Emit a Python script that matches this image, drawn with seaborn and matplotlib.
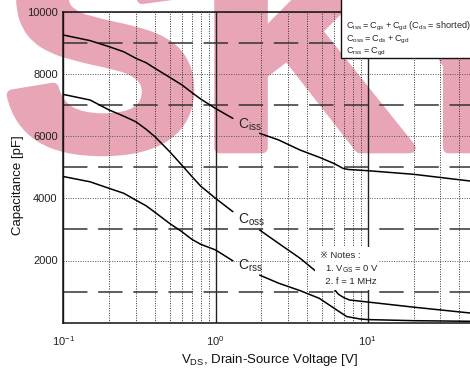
import pandas as pd
import matplotlib
matplotlib.use("Agg")
import matplotlib.pyplot as plt
import matplotlib.patheffects as pe
from matplotlib.patches import Rectangle
from matplotlib.ticker import FixedLocator, LogLocator, NullFormatter
import seaborn as sns

sns.set_style("white")
plt.rcParams['font.family'] = ['Liberation Sans', 'DejaVu Sans']
plt.rcParams['mathtext.default'] = 'regular'
plt.rcParams['axes.unicode_minus'] = False

# curves, split in two parts where the label sits
ciss_v1 = [0.1, 0.15, 0.2, 0.25, 0.3, 0.35, 0.4, 0.5, 0.6, 0.7, 0.8, 1.0, 1.3]
ciss_c1 = [9250, 9070, 8875, 8710, 8500, 8360, 8180, 7890, 7650, 7400, 7190, 6890, 6570]
ciss_v2 = [1.95, 2.6, 3.6, 4.8, 6.0, 6.9, 7.5, 10, 20, 47]
ciss_c2 = [6090, 5875, 5550, 5320, 5120, 4960, 4925, 4888, 4772, 4556]

coss_v1 = [0.1, 0.15, 0.2, 0.25, 0.3, 0.35, 0.4, 0.5, 0.6, 0.7, 0.8, 1.0, 1.3]
coss_c1 = [7340, 7160, 6840, 6640, 6460, 6220, 5980, 5500, 5070, 4700, 4390, 4000, 3570]
coss_v2 = [1.95, 2.6, 3.6, 4.2, 5.0, 5.8, 6.4, 7.0, 7.6, 10, 20, 47]
coss_c2 = [2980, 2550, 2070, 1800, 1500, 1180, 920, 800, 730, 665, 500, 312]

crss_v1 = [0.1, 0.15, 0.2, 0.25, 0.3, 0.35, 0.4, 0.5, 0.6, 0.7, 0.8, 1.0, 1.3]
crss_c1 = [4700, 4530, 4320, 4160, 3940, 3760, 3550, 3190, 2930, 2680, 2520, 2340, 1990]
crss_v2 = [1.95, 2.6, 3.6, 4.8, 6.0, 6.5, 7.3, 8.9, 10, 20, 47]
crss_c2 = [1530, 1270, 1030, 785, 470, 355, 195, 120, 100, 65, 45]

y_major = [2000, 4000, 6000, 8000, 10000]
y_minor = [1000, 3000, 5000, 7000, 9000]

legend_lines = ["$C_{iss} = C_{gs} + C_{gd}$ ($C_{ds}$ = shorted)",
                "$C_{oss} = C_{ds} + C_{gd}$",
                "$C_{rss} = C_{gd}$"]
notes_lines = ["\u203b Notes :", "  1. $V_{GS}$ = 0 V", "  2. f = 1 MHz"]

rows = []
for name, parts in [("Ciss", [(ciss_v1, ciss_c1), (ciss_v2, ciss_c2)]),
                    ("Coss", [(coss_v1, coss_c1), (coss_v2, coss_c2)]),
                    ("Crss", [(crss_v1, crss_c1), (crss_v2, crss_c2)])]:
    for i, (vs, cs) in enumerate(parts):
        for v, c in zip(vs, cs):
            rows.append({"V": v, "C": c, "curve": name, "seg": f"{name}{i}"})
df = pd.DataFrame(rows)

fig = plt.figure(figsize=(4.7, 3.76), dpi=100)
fig.patch.set_facecolor("white")
ax = fig.add_axes([63.3 / 470, 53.3 / 376, 406.7 / 470, 311 / 376])
ax.patch.set_alpha(0)

# watermark
pink = "#e8a5b5"
for txt, xpos in [("SK", 0.008), ("Y", 0.79)]:
    fig.text(xpos, 0.607, txt, fontsize=212, fontweight="bold", color=pink, zorder=-1,
             path_effects=[pe.withStroke(linewidth=8, foreground=pink)])

sns.lineplot(data=df, x="V", y="C", hue="curve", units="seg", estimator=None,
             sort=False, palette={"Ciss": "black", "Coss": "black", "Crss": "black"},
             linewidth=1.1, legend=False, ax=ax, zorder=3)

ax.set_xscale("log")
ax.set_xlim(0.1, 47.0)
ax.set_ylim(0, 10000)
ax.xaxis.set_major_locator(LogLocator(base=10, numticks=10))
ax.xaxis.set_minor_locator(LogLocator(base=10, subs=range(2, 10), numticks=20))
ax.xaxis.set_minor_formatter(NullFormatter())
ax.yaxis.set_major_locator(FixedLocator(y_major))
ax.yaxis.set_minor_locator(FixedLocator(y_minor))

ax.grid(which="major", axis="x", color="#222222", linestyle="-", linewidth=1.0)
ax.grid(which="minor", axis="x", color="#333333", linestyle=(0, (1, 1.5)), linewidth=0.7)
ax.grid(which="major", axis="y", color="#555555", linestyle=(0, (1, 1.5)), linewidth=0.7)
ax.grid(which="minor", axis="y", color="#333333", linestyle=(0, (16, 7)), linewidth=1.1)

ax.tick_params(which="both", length=0, labelsize=8, colors="#222222")
ax.tick_params(axis="x", pad=8)
ax.tick_params(axis="y", pad=4)
for s in ["left", "bottom", "top"]:
    ax.spines[s].set_color("#111111")
    ax.spines[s].set_linewidth(1.1)
ax.spines["right"].set_visible(False)

ax.set_xlabel(r"$V_{DS}$, Drain-Source Voltage [V]", fontsize=9.5, color="#111111")
ax.set_ylabel("Capacitance [pF]", fontsize=9.5, color="#111111")
ax.xaxis.set_label_coords(0.508, -0.095)
ax.yaxis.set_label_coords(-0.097, 0.443)

ax.text(1.41, 6251, r"$C_{iss}$", fontsize=10, va="baseline", ha="left", zorder=4)
ax.text(1.41, 3196, r"$C_{oss}$", fontsize=10, va="baseline", ha="left", zorder=4)
ax.text(1.41, 1695, r"$C_{rss}$", fontsize=10, va="baseline", ha="left", zorder=4)

# formula box (top right) and notes box
ax.add_patch(Rectangle((0.683, 0.851), 0.4, 0.2, transform=ax.transAxes,
                       facecolor="white", edgecolor="#111111", linewidth=1.0,
                       zorder=5, clip_on=False))
for i, line in enumerate(legend_lines):
    ax.text(0.694, 0.946 - i * 0.0405, line, transform=ax.transAxes,
            fontsize=6.6, va="baseline", ha="left", zorder=6)

ax.add_patch(Rectangle((0.619, 0.105), 0.155, 0.14, transform=ax.transAxes,
                       facecolor="white", edgecolor="none", zorder=5))
for i, line in enumerate(notes_lines):
    ax.text(0.631, 0.207 - i * 0.042, line, transform=ax.transAxes,
            fontsize=6.8, va="baseline", ha="left", zorder=6)

fig.savefig("out.png", dpi=100)
